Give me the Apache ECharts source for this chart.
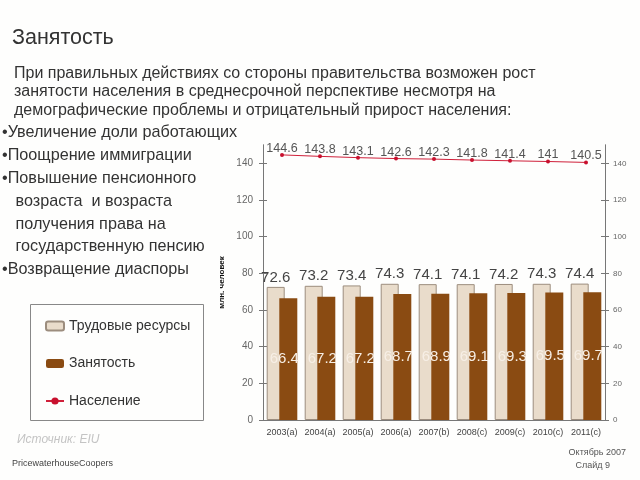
<!DOCTYPE html>
<html>
<head>
<meta charset="utf-8">
<script src="https://cdn.jsdelivr.net/npm/echarts@6/dist/echarts.min.js"></script>
<style>
html,body{margin:0;padding:0;background:#fff;}
#c{width:640px;height:480px;}
</style>
</head>
<body>
<div id="c"></div>
<script>
var categories = ['2003(a)','2004(a)','2005(a)','2006(a)','2007(b)','2008(c)','2009(c)','2010(c)','2011(c)'];
var laborForce = [72.6, 73.2, 73.4, 74.3, 74.1, 74.1, 74.2, 74.3, 74.4];
var employment = [66.4, 67.2, 67.2, 68.7, 68.9, 69.1, 69.3, 69.5, 69.7];
var population = [144.6, 143.8, 143.1, 142.6, 142.3, 141.8, 141.4, 141, 140.5];
var yTicks = [0, 20, 40, 60, 80, 100, 120, 140];

var font = 'Liberation Sans, Arial, sans-serif';
var chart = echarts.init(document.getElementById('c'));

function yAxisBase(pos, showLabel, inside, labelSize) {
  return {
    type: 'value', position: pos, min: 0, max: 150,
    axisLine: {show: true, lineStyle: {color: '#777', width: 1}},
    axisTick: {show: true, inside: inside, length: 4, lineStyle: {color: '#777'}, customValues: yTicks},
    axisLabel: {show: showLabel, customValues: yTicks, color: '#666', fontSize: labelSize, fontFamily: font, margin: pos === 'left' ? 10 : 8},
    splitLine: {show: false}
  };
}

var yLeft = yAxisBase('left', true, false, 10);
yLeft.name = 'млн. человек';
yLeft.nameLocation = 'middle';
yLeft.nameRotate = 90;
yLeft.nameGap = 27;
yLeft.nameTextStyle = {fontSize: 8, fontWeight: 'bold', color: '#111', fontFamily: font};

var option = {
  backgroundColor: '#fefefd',
  animation: false,
  grid: {left: 263, right: 35, top: 145, bottom: 60},
  legend: {
    orient: 'vertical', left: 40, top: 314, itemGap: 23.5,
    itemWidth: 18, itemHeight: 9,
    textStyle: {fontSize: 14, color: '#333', fontFamily: font},
    data: ['Трудовые ресурсы', 'Занятость', 'Население']
  },
  xAxis: {
    type: 'category', data: categories,
    axisLine: {lineStyle: {color: '#777'}},
    axisTick: {length: 4, lineStyle: {color: '#777'}},
    axisLabel: {interval: 0, fontSize: 9, color: '#444', fontFamily: font, margin: 8}
  },
  yAxis: [
    yLeft,
    yAxisBase('right', true, false, 8),
    yAxisBase('left', false, true, 8),
    yAxisBase('right', false, true, 8)
  ],
  series: [
    {
      name: 'Трудовые ресурсы', type: 'bar', data: laborForce,
      barWidth: 18, barGap: '-30%',
      itemStyle: {color: '#e9dccb', borderColor: '#9c8d7e', borderWidth: 1},
      label: {show: true, position: 'top', distance: 2, fontSize: 15, color: '#444', fontFamily: font}
    },
    {
      name: 'Занятость', type: 'bar', data: employment,
      barWidth: 18,
      itemStyle: {color: '#8a4b12'},
      label: {show: true, position: ['50%', '50%'], align: 'center', verticalAlign: 'middle', overflow: 'none', offset: [-4, 0], fontSize: 15, color: '#f7efe6', fontFamily: font}
    },
    {
      name: 'Население', type: 'line', data: population,
      symbol: 'circle', symbolSize: 4,
      lineStyle: {color: '#d0203a', width: 1},
      itemStyle: {color: '#c8102e'},
      label: {show: true, position: 'top', distance: 0, offset: [0, 2], fontSize: 12.5, color: '#555', fontFamily: font}
    }
  ],
  graphic: [
    {type: 'text', left: 12, top: 27, style: {text: 'Занятость', fontSize: 21.5, fill: '#333', fontFamily: font}},
    {type: 'text', left: 14, top: 64, style: {text: 'При правильных действиях со стороны правительства возможен рост\nзанятости населения в среднесрочной перспективе несмотря на\nдемографические проблемы и отрицательный прирост населения:', fontSize: 16, lineHeight: 18.5, fill: '#333', fontFamily: font}},
    {type: 'text', left: 2, top: 121, style: {text: '•Увеличение доли работающих\n•Поощрение иммиграции\n•Повышение пенсионного\n   возраста  и возраста\n   получения права на\n   государственную пенсию\n•Возвращение диаспоры', fontSize: 16.2, lineHeight: 22.9, fill: '#333', fontFamily: font}},
    {type: 'rect', shape: {x: 30.5, y: 304.5, width: 173, height: 116}, style: {fill: 'none', stroke: '#888', lineWidth: 1}},
    {type: 'text', left: 17, top: 434, style: {text: 'Источник: EIU', fontSize: 12, fontStyle: 'italic', fill: '#c4c4c4', fontFamily: font}},
    {type: 'text', left: 12, top: 459, style: {text: 'PricewaterhouseCoopers', fontSize: 9, fill: '#444', fontFamily: font}},
    {type: 'text', right: 14, top: 448, style: {text: 'Октябрь 2007', fontSize: 9, fill: '#555', fontFamily: font}},
    {type: 'text', right: 30, top: 461, style: {text: 'Слайд 9', fontSize: 9, fill: '#555', fontFamily: font}}
  ]
};
chart.setOption(option);
</script>
</body>
</html>
